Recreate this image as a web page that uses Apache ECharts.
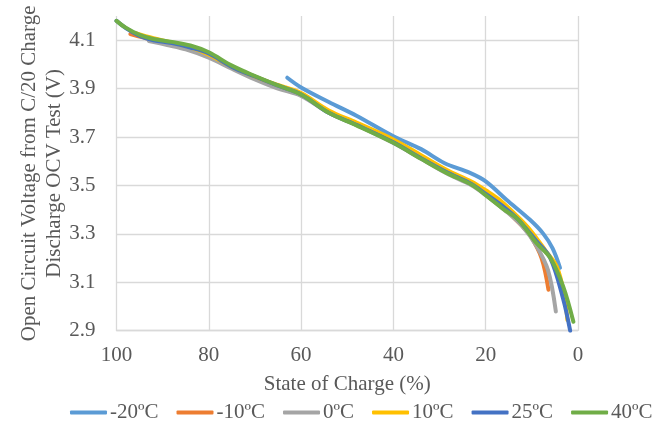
<!DOCTYPE html>
<html lang="en">
<head>
  <meta charset="utf-8">
  <title>OCV vs SOC</title>
  <script src="https://cdn.jsdelivr.net/npm/echarts@6/dist/echarts.min.js"></script>
  <style>
    html, body, #main { width: 100%; height: 100%; margin: 0; padding: 0; overflow: hidden; background: #fff; }
  </style>
</head>
<body>
  <div id="main"></div>
  <script>
    // temperatures (legend order)
    var temps = ['-20ºC', '-10ºC', '0ºC', '10ºC', '25ºC', '40ºC'];
    var colors = ['#5B9BD5', '#ED7D31', '#A5A5A5', '#FFC000', '#4472C4', '#70AD47'];

    // state of charge (%) / open circuit voltage (V)
    var socM20 = [63, 60, 54, 48, 40, 34, 29, 23.4, 20, 15.5, 10.4, 7.5, 5.5, 3.9];
    var ocvM20 = [3.945, 3.905, 3.845, 3.788, 3.703, 3.65, 3.593, 3.552, 3.517, 3.441, 3.358, 3.3, 3.24, 3.16];

    var socM10 = [97, 92, 88, 84, 80, 75, 70, 65, 60, 54, 48, 40, 34, 28.5, 23, 20, 16, 12, 10.4, 7.9, 6.4];
    var ocvM10 = [4.125, 4.1, 4.085, 4.068, 4.04, 3.99, 3.948, 3.91, 3.878, 3.805, 3.755, 3.682, 3.615, 3.556, 3.506, 3.465, 3.405, 3.33, 3.295, 3.2, 3.069];

    var soc0 = [93, 89, 85, 80, 75, 70, 65, 60, 54, 48, 40, 34, 28.5, 23, 20, 16, 12, 9, 6.5, 4.8];
    var ocv0 = [4.097, 4.08, 4.062, 4.028, 3.982, 3.938, 3.9, 3.87, 3.8, 3.75, 3.675, 3.61, 3.55, 3.5, 3.46, 3.4, 3.33, 3.25, 3.15, 2.979];

    var soc10 = [96, 92, 88, 84, 80, 75, 70, 65, 60, 54, 48, 40, 34, 28.5, 23, 20, 17, 13, 10.4, 7, 4.6, 3, 2.3];
    var ocv10 = [4.13, 4.108, 4.09, 4.07, 4.04, 3.99, 3.95, 3.915, 3.882, 3.81, 3.76, 3.69, 3.625, 3.565, 3.515, 3.48, 3.441, 3.37, 3.317, 3.23, 3.165, 3.05, 2.944];

    var soc25 = [100, 98, 95, 92, 88, 84, 80, 75, 70, 65, 60, 54, 48, 40, 34, 28.5, 23, 20, 16, 13, 9, 6, 3.2, 1.7];
    var ocv25 = [4.18, 4.15, 4.118, 4.1, 4.088, 4.07, 4.045, 3.99, 3.95, 3.912, 3.876, 3.8, 3.75, 3.678, 3.612, 3.555, 3.505, 3.465, 3.41, 3.36, 3.27, 3.2, 3.03, 2.9];

    var soc40 = [100, 98, 95, 92, 88, 84, 80, 75, 70, 65, 60, 54, 48, 40, 34, 28.5, 23, 20, 16, 13, 9, 6, 3.2, 1];
    var ocv40 = [4.18, 4.152, 4.122, 4.105, 4.093, 4.078, 4.05, 3.995, 3.952, 3.913, 3.876, 3.8, 3.748, 3.676, 3.61, 3.552, 3.503, 3.46, 3.4, 3.36, 3.262, 3.2, 3.082, 2.937];

    var socSets = [socM20, socM10, soc0, soc10, soc25, soc40];
    var ocvSets = [ocvM20, ocvM10, ocv0, ocv10, ocv25, ocv40];

    var font = 'Liberation Serif';
    var grey = '#595959';
    var gridCol = '#d9d9d9';

    function pairs(xs, ys) {
      return xs.map(function (x, i) { return [x, ys[i]]; });
    }

    var series = temps.map(function (t, i) {
      return {
        name: t,
        type: 'line',
        data: pairs(socSets[i], ocvSets[i]),
        smooth: 0.35,
        showSymbol: false,
        symbol: 'none',
        color: colors[i],
        lineStyle: { width: 4, color: colors[i], cap: 'round' }
      };
    });

    var chart = echarts.init(document.getElementById('main'));
    chart.setOption({
      animation: false,
      color: colors,
      grid: { left: 116.5, right: 80, top: 16, bottom: 92.3 },
      xAxis: {
        type: 'value',
        inverse: true,
        min: 0, max: 100, interval: 20,
        name: 'State of Charge (%)',
        nameLocation: 'middle',
        nameGap: 43,
        nameTextStyle: { fontFamily: font, fontSize: 21, color: grey },
        axisLine: { show: true, lineStyle: { color: gridCol, width: 1.3 } },
        axisTick: { show: false },
        axisLabel: { fontFamily: font, fontSize: 21, color: grey, margin: 14 },
        splitLine: { show: true, lineStyle: { color: gridCol, width: 1.3 } }
      },
      yAxis: {
        type: 'value',
        min: 2.9, max: 4.2, interval: 0.2,
        name: 'Open Circuit Voltage from C/20 Charge\nDischarge OCV Test (V)',
        nameLocation: 'middle',
        nameRotate: 90,
        nameGap: 50,
        nameMoveOverlap: false,
        nameTextStyle: { fontFamily: font, fontSize: 21, color: grey, lineHeight: 25 },
        axisLine: { show: false },
        axisTick: { show: false },
        axisLabel: {
          fontFamily: font, fontSize: 21, color: grey, margin: 21,
          showMaxLabel: false,
          formatter: function (v) { return v.toFixed(1); }
        },
        splitLine: { show: true, showMaxLine: false, lineStyle: { color: gridCol, width: 1.3 } }
      },
      legend: {
        data: temps,
        left: 70,
        top: 402,
        width: 588,
        padding: 0,
        icon: 'roundRect',
        itemWidth: 37,
        itemHeight: 4,
        itemGap: 18,
        textStyle: { fontFamily: font, fontSize: 21, color: grey, padding: [0, 0, 0, -2] }
      },
      series: series
    });
  </script>
</body>
</html>
